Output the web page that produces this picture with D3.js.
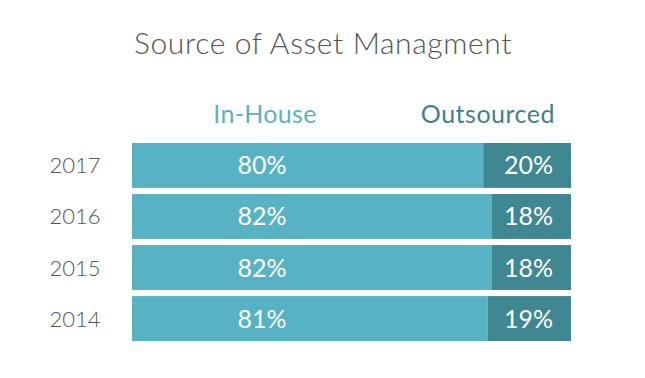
<!DOCTYPE html>
<html>
<head>
<meta charset="utf-8">
<script src="https://cdn.jsdelivr.net/npm/d3@7"></script>
<style>
body { margin: 0; background: #fff; }
text { font-family: Lato, "Open Sans", sans-serif; }
</style>
</head>
<body>
<svg id="chart" width="645" height="378"></svg>
<script>
// chart data
var years = ['2017', '2016', '2015', '2014'];
var inHouse = [80, 82, 82, 81];
var outsourced = [20, 18, 18, 19];
var seriesNames = ['In-House', 'Outsourced'];

var svg = d3.select('#chart');
var lightTeal = '#57b2c3';
var darkTeal = '#3f8791';

var x = d3.scaleLinear().domain([0, 100]).range([132, 571]);
var y = d3.scaleBand().domain(years).range([143, 341]).paddingInner(0.12);

svg.append('text')
	.attr('x', 134).attr('y', 54)
	.attr('font-size', 30).attr('font-weight', 300)
	.attr('letter-spacing', 0.6)
	.attr('fill', '#555')
	.text('Source of Asset Managment');

// legend headers
svg.append('text')
	.attr('x', 265).attr('y', 123)
	.attr('text-anchor', 'middle')
	.attr('font-size', 25).attr('letter-spacing', 0.3)
	.attr('fill', '#5ab3c0')
	.text(seriesNames[0]);
svg.append('text')
	.attr('x', 555).attr('y', 123)
	.attr('text-anchor', 'end')
	.attr('font-size', 25).attr('letter-spacing', 0.5)
	.attr('fill', '#3e818a')
	.text(seriesNames[1]);

var rows = svg.selectAll('g.row')
	.data(years)
	.enter().append('g')
	.attr('class', 'row');

rows.append('rect')
	.attr('x', x(0))
	.attr('y', d => y(d))
	.attr('width', (d, i) => x(inHouse[i]) - x(0))
	.attr('height', y.bandwidth())
	.attr('fill', lightTeal);

rows.append('rect')
	.attr('x', (d, i) => x(inHouse[i]))
	.attr('y', d => y(d))
	.attr('width', (d, i) => x(inHouse[i] + outsourced[i]) - x(inHouse[i]))
	.attr('height', y.bandwidth())
	.attr('fill', darkTeal);

rows.append('text')
	.attr('x', 75)
	.attr('y', d => y(d) + y.bandwidth() / 2 + 8)
	.attr('text-anchor', 'middle')
	.attr('font-size', 22).attr('font-weight', 300)
	.attr('fill', '#555')
	.text(d => d);

rows.append('text')
	.attr('x', 262)
	.attr('y', d => y(d) + y.bandwidth() / 2 + 9)
	.attr('text-anchor', 'middle')
	.attr('font-size', 25)
	.attr('fill', '#fff')
	.text((d, i) => inHouse[i] + '%');

rows.append('text')
	.attr('x', 553)
	.attr('y', d => y(d) + y.bandwidth() / 2 + 9)
	.attr('text-anchor', 'end')
	.attr('font-size', 25)
	.attr('fill', '#fff')
	.text((d, i) => outsourced[i] + '%');
</script>
</body>
</html>
